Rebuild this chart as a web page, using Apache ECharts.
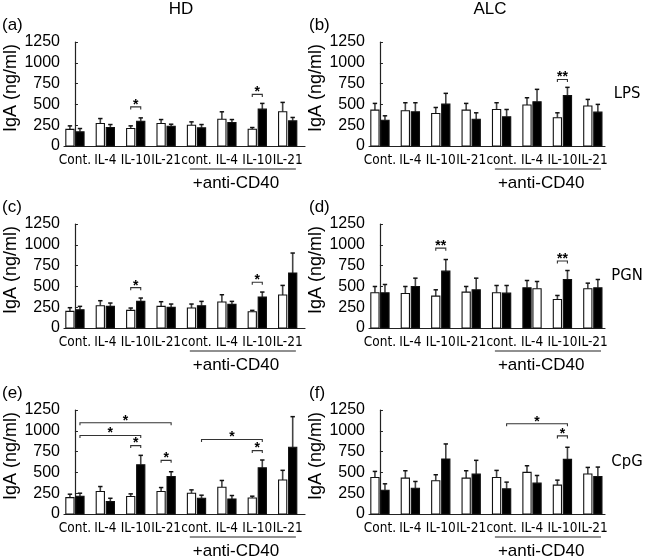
<!DOCTYPE html>
<html><head><meta charset="utf-8">
<script src="https://cdn.jsdelivr.net/npm/echarts@6/dist/echarts.min.js"></script>
<style>html,body{margin:0;padding:0;background:#fff}#c{width:650px;height:558px}</style>
</head><body><div id="c"></div>
<script>
// ---- data ----
const categories = ['Cont.', 'IL-4', 'IL-10', 'IL-21', 'cont.', 'IL-4', 'IL-10', 'IL-21'];
const yTicks = [0, 250, 500, 750, 1000, 1250];
const columnTitles = ['HD', 'ALC'];
const stimuli = ['LPS', 'PGN', 'CpG'];
const groupLabel = '+anti-CD40';

// (a) HD LPS
const aWhite = [200, 270, 210, 270, 250, 322, 202, 411];
const aWhiteErr = [42, 60, 32, 48, 40, 89, 20, 113];
const aBlack = [170, 222, 298, 238, 218, 282, 443, 302];
const aBlackErr = [40, 36, 40, 24, 40, 36, 69, 41];
const aSig = [[2, 2, 470, '*'], [6, 6, 620, '*']];
// (b) ALC LPS
const bWhite = [431, 423, 391, 431, 439, 492, 339, 480];
const bWhiteErr = [81, 97, 72, 81, 81, 88, 60, 80];
const bBlack = [310, 411, 504, 322, 351, 532, 605, 407];
const bBlackErr = [53, 109, 129, 77, 88, 149, 100, 93];
const bSig = [[6, 6, 800, '**']];
// (c) HD PGN
const cWhite = [200, 268, 212, 260, 240, 312, 196, 396];
const cWhiteErr = [44, 60, 28, 56, 48, 88, 16, 116];
const cBlack = [220, 260, 320, 248, 268, 284, 372, 661];
const cBlackErr = [40, 40, 40, 40, 52, 36, 60, 240];
const cSig = [[2, 2, 485, '*'], [6, 6, 550, '*']];
// (d) ALC PGN
const dWhite = [423, 415, 383, 431, 423, 471, 343, 471];
const dWhiteErr = [76, 84, 76, 68, 88, 88, 48, 68];
const dBlack = [423, 499, 683, 459, 419, 483, 583, 483];
const dBlackErr = [100, 100, 140, 140, 92, 88, 108, 100];
const dSig = [[2, 2, 960, '**'], [6, 6, 805, '**']];
// (e) HD CpG
const eWhite = [197, 270, 210, 270, 250, 322, 193, 409];
const eWhiteErr = [41, 60, 32, 48, 40, 81, 21, 116];
const eBlack = [214, 149, 592, 451, 189, 181, 555, 802];
const eBlackErr = [36, 40, 113, 57, 37, 41, 94, 368];
const eSig = [[0, 3, 1096, '*'], [0, 2, 943, '*'], [2, 2, 822, '*'], [3, 3, 645, '*'], [4, 6, 895, '*'], [6, 6, 762, '*']];
// (f) ALC CpG
const fWhite = [439, 431, 399, 431, 439, 500, 347, 480];
const fWhiteErr = [73, 89, 73, 89, 85, 80, 60, 80];
const fBlack = [286, 310, 661, 480, 302, 371, 657, 451];
const fBlackErr = [77, 81, 181, 165, 81, 92, 145, 113];
const fSig = [[4, 6, 1084, '*'], [6, 6, 939, '*']];

// ---- layout ----
const panels = [
  {tag: '(a)', w: aWhite, we: aWhiteErr, b: aBlack, be: aBlackErr, sig: aSig, col: 0, row: 0},
  {tag: '(b)', w: bWhite, we: bWhiteErr, b: bBlack, be: bBlackErr, sig: bSig, col: 1, row: 0},
  {tag: '(c)', w: cWhite, we: cWhiteErr, b: cBlack, be: cBlackErr, sig: cSig, col: 0, row: 1},
  {tag: '(d)', w: dWhite, we: dWhiteErr, b: dBlack, be: dBlackErr, sig: dSig, col: 1, row: 1, swap: [5]},
  {tag: '(e)', w: eWhite, we: eWhiteErr, b: eBlack, be: eBlackErr, sig: eSig, col: 0, row: 2},
  {tag: '(f)', w: fWhite, we: fWhiteErr, b: fBlack, be: fBlackErr, sig: fSig, col: 1, row: 2}
];
const colLeft = [64, 369], colWidth = [241, 236], colMax = [7.57, 7.40];
const rowTop = [42, 224, 410], plotH = 104;
const OFF = 0.165, BW = 0.27;
const FONT = 'Liberation Sans, Arial, Helvetica, sans-serif';
const NARROW = '"Liberation Sans Narrow", "DejaVu Sans Condensed", Arial, sans-serif';

const grids = [], xAxes = [], yAxes = [], series = [], graphics = [];

function barSeries(p, idx, vals, errs, side) {
  const swap = p.swap || [];
  return {
    type: 'custom', xAxisIndex: idx, yAxisIndex: idx, clip: false, silent: true,
    data: vals.map((v, i) => [i, v, errs[i]]),
    renderItem: function (params, api) {
      const i = api.value(0), m = api.value(1), e = api.value(2);
      const unit = api.size([1, 0])[0];
      const s = swap.indexOf(i) >= 0 ? -side : side;
      const base = api.coord([i, 0]);
      const cx = base[0] + s * OFF * unit;
      const top = api.coord([i, m])[1];
      const et = api.coord([i, m + e])[1];
      const w = BW * unit;
      return {type: 'group', children: [
        {type: 'line', shape: {x1: cx, y1: top, x2: cx, y2: et}, style: {stroke: '#444', lineWidth: 1.6}},
        {type: 'line', shape: {x1: cx - 2.2, y1: et, x2: cx + 2.2, y2: et}, style: {stroke: '#111', lineWidth: 1.5}},
        {type: 'rect', shape: {x: cx - w / 2, y: top, width: w, height: base[1] - top},
          style: {fill: side < 0 ? '#fff' : '#000', stroke: '#111', lineWidth: 1.1}}
      ]};
    }
  };
}

panels.forEach((p, idx) => {
  const left = colLeft[p.col], top = rowTop[p.row];
  grids.push({left: left, top: top, width: colWidth[p.col], height: plotH});
  xAxes.push({
    type: 'value', gridIndex: idx, min: -0.36, max: colMax[p.col],
    axisLine: {show: true, onZero: false, lineStyle: {color: '#222', width: 1.2}},
    axisTick: {show: false}, splitLine: {show: false},
    axisLabel: {show: true, customValues: categories.map((c, i) => i), formatter: v => categories[Math.round(v)],
      color: '#000', fontSize: 13.5, fontFamily: NARROW, margin: 7}
  });
  yAxes.push({
    type: 'value', gridIndex: idx, min: 0, max: 1250, interval: 250,
    axisLine: {show: true, lineStyle: {color: '#222', width: 1.2}},
    axisTick: {show: true, inside: true, length: 3, lineStyle: {color: '#222'}},
    splitLine: {show: false},
    axisLabel: {color: '#000', fontSize: 16, fontFamily: FONT, margin: 4,
      formatter: v => String(yTicks[yTicks.indexOf(v)])}
  });
  series.push(barSeries(p, idx, p.w, p.we, -1));
  series.push(barSeries(p, idx, p.b, p.be, 1));
  const sig = p.sig;
  series.push({
    type: 'custom', xAxisIndex: idx, yAxisIndex: idx, clip: false, silent: true,
    data: sig.map((s, i) => [s[0], s[1], s[2]]),
    renderItem: function (params, api) {
      const s = sig[params.dataIndex];
      const x1 = s[0] === s[1] ? s[0] - OFF : s[0] + OFF;
      const x2 = s[1] + OFF;
      const p1 = api.coord([x1, s[2]]), p2 = api.coord([x2, s[2]]);
      const y = p1[1];
      return {type: 'group', children: [
        {type: 'polyline', shape: {points: [[p1[0], y + 2.5], [p1[0], y], [p2[0], y], [p2[0], y + 2.5]]},
          style: {stroke: '#333', lineWidth: 1.1, fill: null}},
        {type: 'text', style: {text: s[3], x: (p1[0] + p2[0]) / 2, y: y + 5, textAlign: 'center',
          textVerticalAlign: 'bottom', font: 'bold 14px ' + FONT, fill: '#000'}}
      ]};
    }
  });
  // +anti-CD40 group annotation
  series.push({
    type: 'custom', xAxisIndex: idx, yAxisIndex: idx, clip: false, silent: true,
    data: [[3.78, 7.27, 5.3]],
    renderItem: function (params, api) {
      const a = api.coord([api.value(0), 0]), b = api.coord([api.value(1), 0]), c = api.coord([api.value(2), 0]);
      return {type: 'group', children: [
        {type: 'line', shape: {x1: a[0], y1: a[1] + 23, x2: b[0], y2: a[1] + 23}, style: {stroke: '#222', lineWidth: 1.1}},
        {type: 'text', style: {text: groupLabel, x: c[0], y: a[1] + 37, textAlign: 'center', textVerticalAlign: 'middle',
          font: '17px ' + FONT, fill: '#000'}}
      ]};
    }
  });
  // panel tag
  graphics.push({type: 'text', x: p.col === 0 ? 2 : 309, y: top - 17,
    style: {text: p.tag, font: '17px ' + FONT, fill: '#000', textAlign: 'left', textVerticalAlign: 'middle'}});
  // y axis name
  graphics.push({type: 'text', x: left - 53, y: top + plotH / 2 - 6, rotation: Math.PI / 2,
    style: {text: 'IgA (ng/ml)', font: '18px ' + FONT, fill: '#000', textAlign: 'center', textVerticalAlign: 'middle'}});
  if (p.col === 1) {
    graphics.push({type: 'text', x: 627, y: top + plotH / 2,
      style: {text: stimuli[p.row], font: '16.5px ' + NARROW, fill: '#000', textAlign: 'center', textVerticalAlign: 'middle'}});
  }
});
graphics.push({type: 'text', x: 181, y: 9, style: {text: columnTitles[0], font: '17px ' + FONT, fill: '#000', textAlign: 'center', textVerticalAlign: 'middle'}});
graphics.push({type: 'text', x: 490, y: 9, style: {text: columnTitles[1], font: '17px ' + FONT, fill: '#000', textAlign: 'center', textVerticalAlign: 'middle'}});

const chart = echarts.init(document.getElementById('c'), null, {renderer: 'canvas'});
chart.setOption({
  animation: false, backgroundColor: '#fff',
  grid: grids, xAxis: xAxes, yAxis: yAxes, series: series, graphic: graphics
});
</script></body></html>
